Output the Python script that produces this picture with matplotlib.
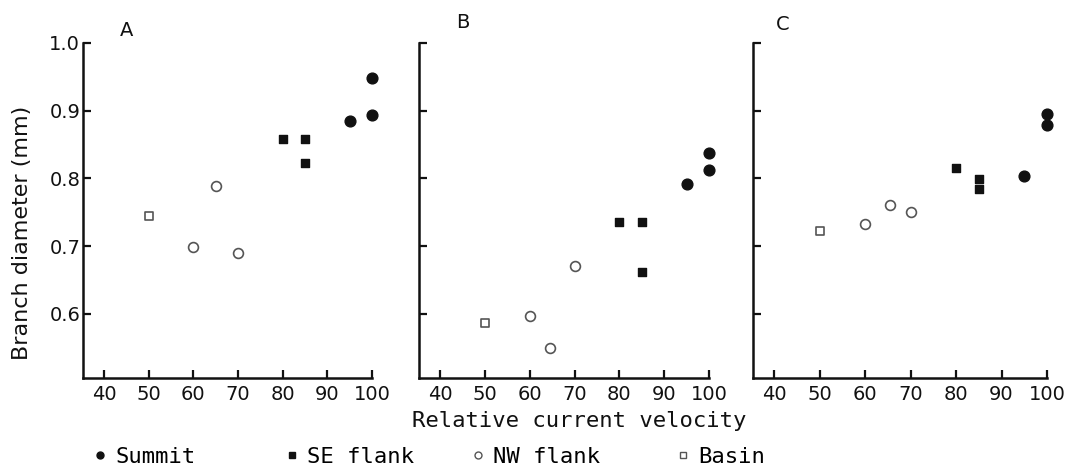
import matplotlib.pyplot as plt
from matplotlib.lines import Line2D

# values (relative current velocity, branch diameter mm)
a_summit_x = [95, 100, 100]
a_summit_y = [0.885, 0.893, 0.948]
a_se_x = [80, 85, 85]
a_se_y = [0.858, 0.858, 0.822]
a_nw_x = [60, 65, 70]
a_nw_y = [0.698, 0.788, 0.690]
a_basin_x = [50]
a_basin_y = [0.745]

b_summit_x = [95, 100, 100]
b_summit_y = [0.792, 0.813, 0.838]
b_se_x = [80, 85, 85]
b_se_y = [0.735, 0.735, 0.661]
b_nw_x = [60, 64.5, 70]
b_nw_y = [0.596, 0.550, 0.670]
b_basin_x = [50]
b_basin_y = [0.586]

c_summit_x = [95, 100, 100]
c_summit_y = [0.804, 0.879, 0.895]
c_se_x = [80, 85, 85]
c_se_y = [0.816, 0.799, 0.785]
c_nw_x = [60, 65.5, 70]
c_nw_y = [0.732, 0.761, 0.750]
c_basin_x = [50]
c_basin_y = [0.722]

panel_names = ['A', 'B', 'C']
x_ticks = [40, 50, 60, 70, 80, 90, 100]
y_ticks = [0.6, 0.7, 0.8, 0.9, 1.0]
y_ticklabels = ['0.6', '0.7', '0.8', '0.9', '1.0']
legend_labels = ['Summit', 'SE flank', 'NW flank', 'Basin']

W, H = 1068, 469
fig = plt.figure(figsize=(W / 100, H / 100), dpi=100)

# axes boxes in pixels: left, right
boxes = [(83, 372), (419, 709), (753, 1047)]
top_px, bot_px = 43, 378
letter_px = [(127, 30), (463, 23), (783, 25)]

panels = [
    (a_summit_x, a_summit_y, a_se_x, a_se_y, a_nw_x, a_nw_y, a_basin_x, a_basin_y),
    (b_summit_x, b_summit_y, b_se_x, b_se_y, b_nw_x, b_nw_y, b_basin_x, b_basin_y),
    (c_summit_x, c_summit_y, c_se_x, c_se_y, c_nw_x, c_nw_y, c_basin_x, c_basin_y),
]

ink = '#111111'
grey = '#555555'

for i, (l, r) in enumerate(boxes):
    ax = fig.add_axes([l / W, 1 - bot_px / H, (r - l) / W, (bot_px - top_px) / H])
    sx, sy, ex, ey, nx, ny, bx, by = panels[i]
    ax.scatter(sx, sy, marker='o', s=60, color=ink, clip_on=False, zorder=3)
    ax.scatter(ex, ey, marker='s', s=38, color=ink, clip_on=False, zorder=3)
    ax.scatter(nx, ny, marker='o', s=50, facecolor='white', edgecolor=grey,
               linewidth=1.2, clip_on=False, zorder=3)
    ax.scatter(bx, by, marker='s', s=38, facecolor='white', edgecolor=grey,
               linewidth=1.2, clip_on=False, zorder=3)
    ax.set_xlim(35.3, 100)
    ax.set_ylim(0.505, 1.0)
    ax.set_xticks(x_ticks)
    ax.set_yticks(y_ticks)
    if i == 0:
        ax.set_yticklabels(y_ticklabels)
    else:
        ax.set_yticklabels([])
    for side in ['top', 'right']:
        ax.spines[side].set_visible(False)
    for side in ['left', 'bottom']:
        ax.spines[side].set_linewidth(1.8)
        ax.spines[side].set_color(ink)
    ax.tick_params(direction='in', length=6, width=1.6, color=ink,
                   labelsize=14, labelcolor=ink)
    ax.tick_params(axis='x', pad=5)
    ax.tick_params(axis='y', pad=2)
    ax.patch.set_alpha(0)
    lx, ly = letter_px[i]
    fig.text(lx / W, 1 - ly / H, panel_names[i], fontsize=14, ha='center',
             va='center', color=ink)

fig.text(22 / W, 1 - 233 / H, 'Branch diameter (mm)', rotation=90, fontsize=16,
         ha='center', va='center', color=ink)
fig.text(579 / W, 1 - 421 / H, 'Relative current velocity', fontsize=16,
         family='DejaVu Sans Mono', ha='center', va='center', color=ink)

# legend, one entry at a time so the spacing follows the original
handles = [
    Line2D([], [], linestyle='none', marker='o', markersize=5, color=ink),
    Line2D([], [], linestyle='none', marker='s', markersize=4.5, color=ink),
    Line2D([], [], linestyle='none', marker='o', markersize=5, markerfacecolor='white',
           markeredgecolor=grey, markeredgewidth=1),
    Line2D([], [], linestyle='none', marker='s', markersize=4.5, markerfacecolor='white',
           markeredgecolor=grey, markeredgewidth=1),
]
marker_px = [100, 292, 478, 683]
for h, lab, mx in zip(handles, legend_labels, marker_px):
    fig.legend(handles=[h], labels=[lab], loc='center left',
               bbox_to_anchor=((mx - 7) / W, 1 - 457 / H), frameon=False,
               prop={'family': 'DejaVu Sans Mono', 'size': 16},
               handlelength=0.6, handletextpad=0.4, borderpad=0, borderaxespad=0)

plt.savefig('out.png', dpi=100)
